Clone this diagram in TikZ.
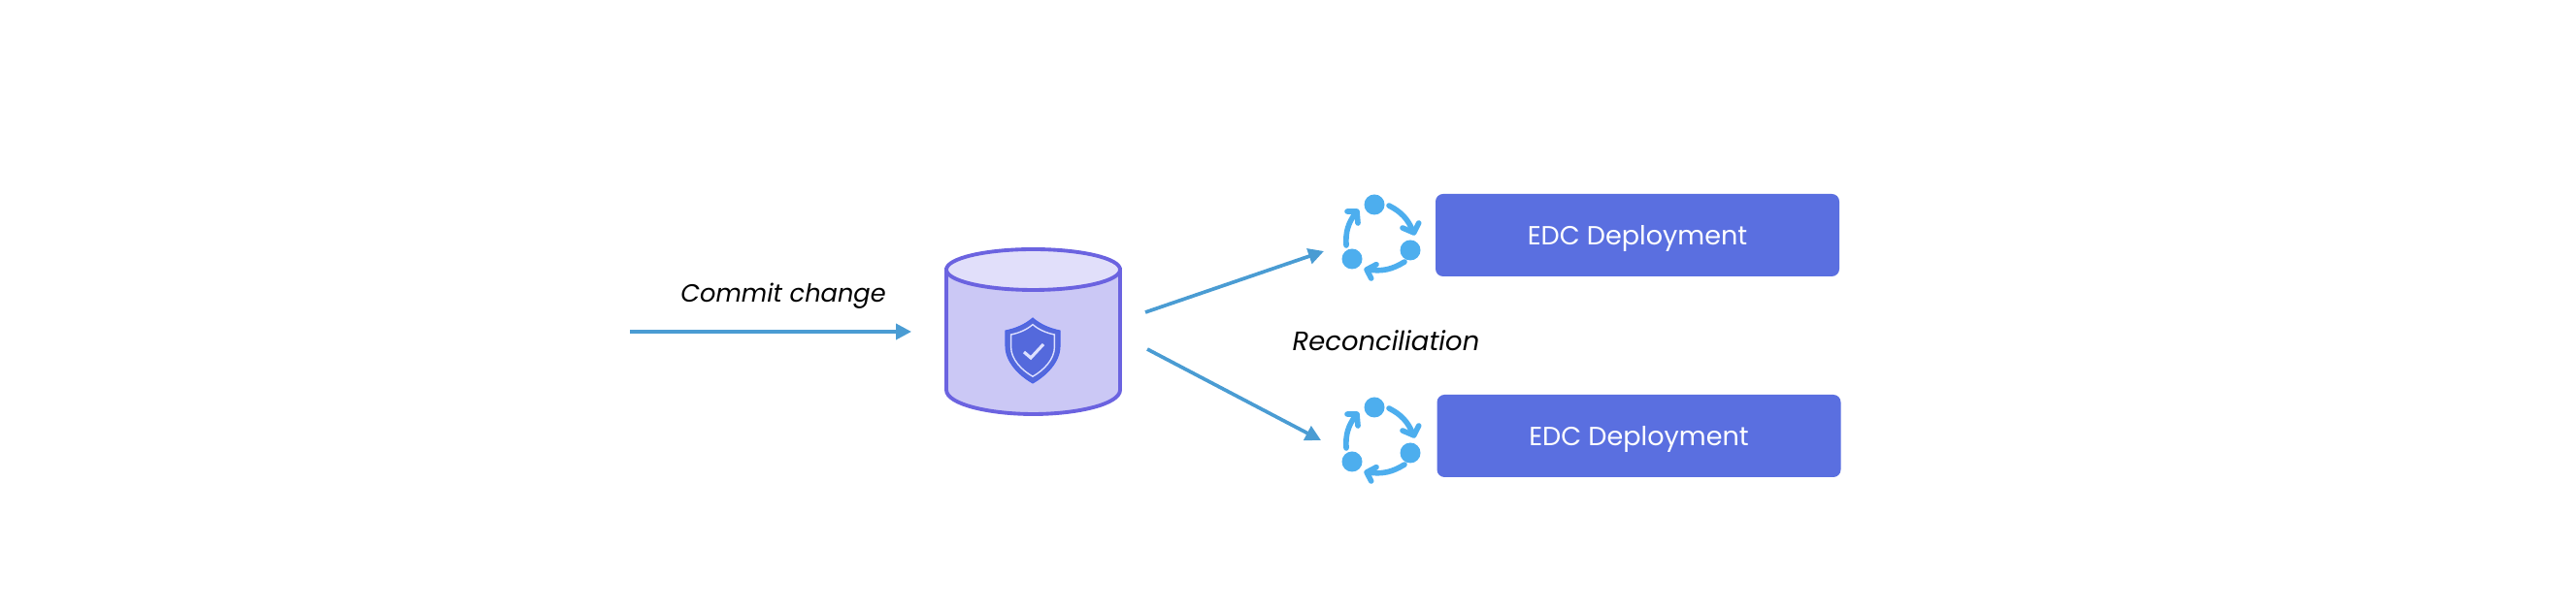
\documentclass[tikz,border=0pt]{standalone}
\usepackage{fontspec}
\setmainfont{Poppins}
\usetikzlibrary{arrows.meta, positioning}
\definecolor{flowblue}{HTML}{4A9CD3}
\definecolor{syncblue}{HTML}{4DAEEE}
\definecolor{boxblue}{HTML}{5A6FE0}
\definecolor{dbline}{HTML}{6B63E0}
\definecolor{dbbody}{HTML}{CBC8F5}
\definecolor{dbtop}{HTML}{E1DFFA}
\definecolor{shieldfill}{HTML}{5469DC}
\definecolor{shieldline}{HTML}{4A63E8}
\definecolor{shieldmark}{HTML}{DDE0FF}
\newcommand{\shieldpath}{(0,0.33) .. controls (0.08,0.26) and (0.18,0.22) .. (0.28,0.20)
  -- (0.28,0.04) .. controls (0.28,-0.12) and (0.14,-0.26) .. (0,-0.34)
  .. controls (-0.14,-0.26) and (-0.28,-0.12) .. (-0.28,0.04)
  -- (-0.28,0.20) .. controls (-0.18,0.22) and (-0.08,0.26) .. (0,0.33) -- cycle}
\tikzset{
  flow/.style   ={-{Triangle[length=1.6mm, width=1.6mm]}, line width=1.05pt, flowblue},
  syncline/.style={line width=1.6pt, syncblue, line cap=round, line join=round},
  syncdot/.style={fill=syncblue, draw=none, circle, minimum size=2.1mm, inner sep=0pt},
  depbox/.style ={fill=boxblue, rounded corners=2.2pt, minimum width=41.6mm,
                  minimum height=8.5mm, inner sep=0pt, text=white, text height=2.6mm,
                  text depth=0.5mm, font=\fontsize{7.7}{9}\selectfont},
  lbl/.style    ={font=\fontsize{7.3}{9}\selectfont\itshape, text=black},
  lblwide/.style={font=\fontsize{7.8}{9}\selectfont\itshape, text=black},
  dbedge/.style ={draw=dbline, line width=1.1pt},
}
\begin{document}
\begin{tikzpicture}
  \useasboundingbox (0,0) rectangle (26.54,6.3);
  % ---- commit arrow
  \coordinate (cstart) at (6.49,2.88);
  \coordinate (cend)   at (9.39,2.88);
  \draw[flow] (cstart) -- (cend);
  \node[lbl] (commit) at (8.07,3.25) {Commit change};
  % ---- store
  \path[dbedge, fill=dbbody] (9.75,3.52) -- (9.75,2.28)
    .. controls (9.75,2.13) and (10.20,2.03) .. (10.645,2.03)
    .. controls (11.09,2.03) and (11.54,2.13) .. (11.54,2.28)
    -- (11.54,3.52) -- cycle;
  \draw[dbedge, fill=dbtop] (10.645,3.52) ellipse (0.895 and 0.21);
  \begin{scope}[shift={(10.64,2.69)}]
    \fill[shieldfill, draw=shieldline, line width=0.3pt] \shieldpath;
    \draw[shieldmark, line width=0.4pt, scale=0.8] \shieldpath;
    \draw[shieldmark, line width=0.9pt] (-0.09,-0.02) -- (-0.02,-0.08) -- (0.11,0.06);
  \end{scope}
  % ---- arrows to deployments
  \coordinate (ustart) at (11.80,3.08);
  \coordinate (uend)   at (13.64,3.71);
  \coordinate (lstart) at (11.82,2.70);
  \coordinate (lend)   at (13.61,1.76);
  \draw[flow] (ustart) -- (uend);
  \draw[flow] (lstart) -- (lend);
  \node[lblwide] (recon) at (14.28,2.79) {Reconciliation};
  % ---- deployments
  \node[depbox] (depa) at (16.87,3.875) {EDC Deployment};
  \node[depbox] (depb) at (16.885,1.805) {EDC Deployment};
  \foreach \yy in {3.85,1.76} {
    \begin{scope}[shift={(14.23,\yy)}]
      \node[syncdot] at (-0.07,0.34) {};
      \node[syncdot] at (0.30,-0.13) {};
      \node[syncdot] at (-0.30,-0.22) {};
      \draw[syncline] (0.08,0.33) to[bend left=20] (0.33,0.06);
      \draw[syncline] (0.22,0.10) -- (0.337,0.05) -- (0.387,0.15);
      \draw[syncline] (0.24,-0.25) to[bend left=20] (-0.14,-0.33);
      \draw[syncline] (-0.05,-0.277) -- (-0.15,-0.33) -- (-0.103,-0.42);
      \draw[syncline] (-0.36,-0.08) to[bend left=20] (-0.26,0.26);
      \draw[syncline] (-0.35,0.27) -- (-0.25,0.27) -- (-0.24,0.15);
    \end{scope}
  }
\end{tikzpicture}
\end{document}
